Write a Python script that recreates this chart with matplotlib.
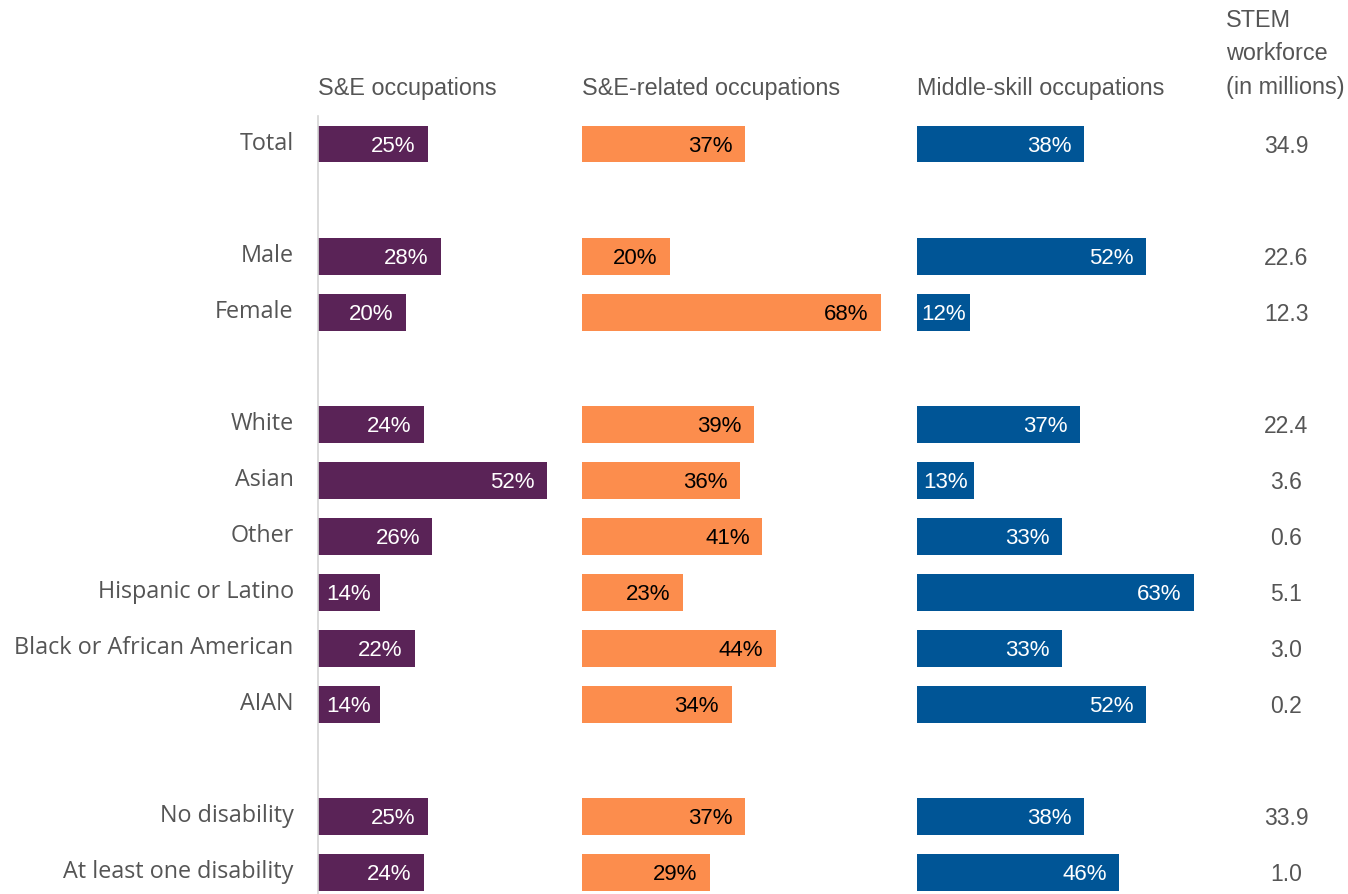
import matplotlib.pyplot as plt
from matplotlib.transforms import blended_transform_factory, ScaledTranslation

categories = ['Total', 'Male', 'Female', 'White', 'Asian', 'Other',
              'Hispanic or Latino', 'Black or African American', 'AIAN',
              'No disability', 'At least one disability']
# slot positions (empty slots separate the groups)
slots = [0, 2, 3, 5, 6, 7, 8, 9, 10, 12, 13]

se_occ = [25, 28, 20, 24, 52, 26, 14, 22, 14, 25, 24]
se_related = [37, 20, 68, 39, 36, 41, 23, 44, 34, 37, 29]
middle_skill = [38, 52, 12, 37, 13, 33, 63, 33, 52, 38, 46]
workforce = ['34.9', '22.6', '12.3', '22.4', '3.6', '0.6', '5.1', '3.0', '0.2', '33.9', '1.0']

headers = ['S&E occupations', 'S&E-related occupations', 'Middle-skill occupations']

W, H = 1348, 894
fig = plt.figure(figsize=(W / 100, H / 100), dpi=100)

px_per_pct = 4.4
panels = [
    (318, 242, se_occ, '#5A2357', 'white'),
    (582, 318, se_related, '#FC8D4D', 'black'),
    (917, 300, middle_skill, '#005596', 'white'),
]
ax_top = 116
ylim = (13.39, -0.5)

axes = []
for i, (left, width, vals, col, tcol) in enumerate(panels):
    ax = fig.add_axes([left / W, 0, width / W, (H - ax_top) / H])
    ax.barh(slots, vals, height=0.66, color=col)
    for s, v in zip(slots, vals):
        if v * px_per_pct < 66:
            # short bar: centre the label inside it
            ax.text(v / 2, s, f'{v}%', ha='center', va='center_baseline',
                    color=tcol, fontsize=16, family='Liberation Sans')
        else:
            ax.annotate(f'{v}%', (v, s), xytext=(-9, 0), textcoords='offset points',
                        ha='right', va='center_baseline', color=tcol, fontsize=16,
                        family='Liberation Sans')
    ax.set_xlim(0, width / px_per_pct)
    ax.set_ylim(*ylim)
    ax.set_xticks([])
    for sp in ax.spines.values():
        sp.set_visible(False)
    if i == 0:
        ax.spines['left'].set_visible(True)
        ax.spines['left'].set_color('#d4d4d4')
        ax.spines['left'].set_linewidth(1.2)
        ax.set_yticks(slots)
        ax.set_yticklabels(categories, fontsize=16.8, family='Open Sans', color='#555555')
        ax.tick_params(axis='y', length=0, pad=17.5)
        shift = ScaledTranslation(0, 2 / 72, fig.dpi_scale_trans)
        for lab in ax.get_yticklabels():
            lab.set_verticalalignment('center_baseline')
            lab.set_transform(lab.get_transform() + shift)
    else:
        ax.set_yticks([])
    ax.patch.set_visible(False)
    fig.text(left / W, 1 - 86 / H, headers[i], ha='left', va='center_baseline',
             fontsize=16.8, family='Liberation Sans', color='#555555')
    axes.append(ax)

# workforce column
tr = blended_transform_factory(fig.transFigure, axes[0].transData)
for s, w in zip(slots, workforce):
    axes[0].text(1286 / W, s, w, transform=tr, ha='center', va='center_baseline',
                 fontsize=16.5, family='Liberation Sans', color='#555555')

fig.text(1226 / W, 1 - 54 / H, 'STEM\nworkforce\n(in millions)', ha='left', va='center',
         fontsize=16.8, family='Liberation Sans', color='#555555', linespacing=1.58)

fig.savefig('out.png', dpi=100)
